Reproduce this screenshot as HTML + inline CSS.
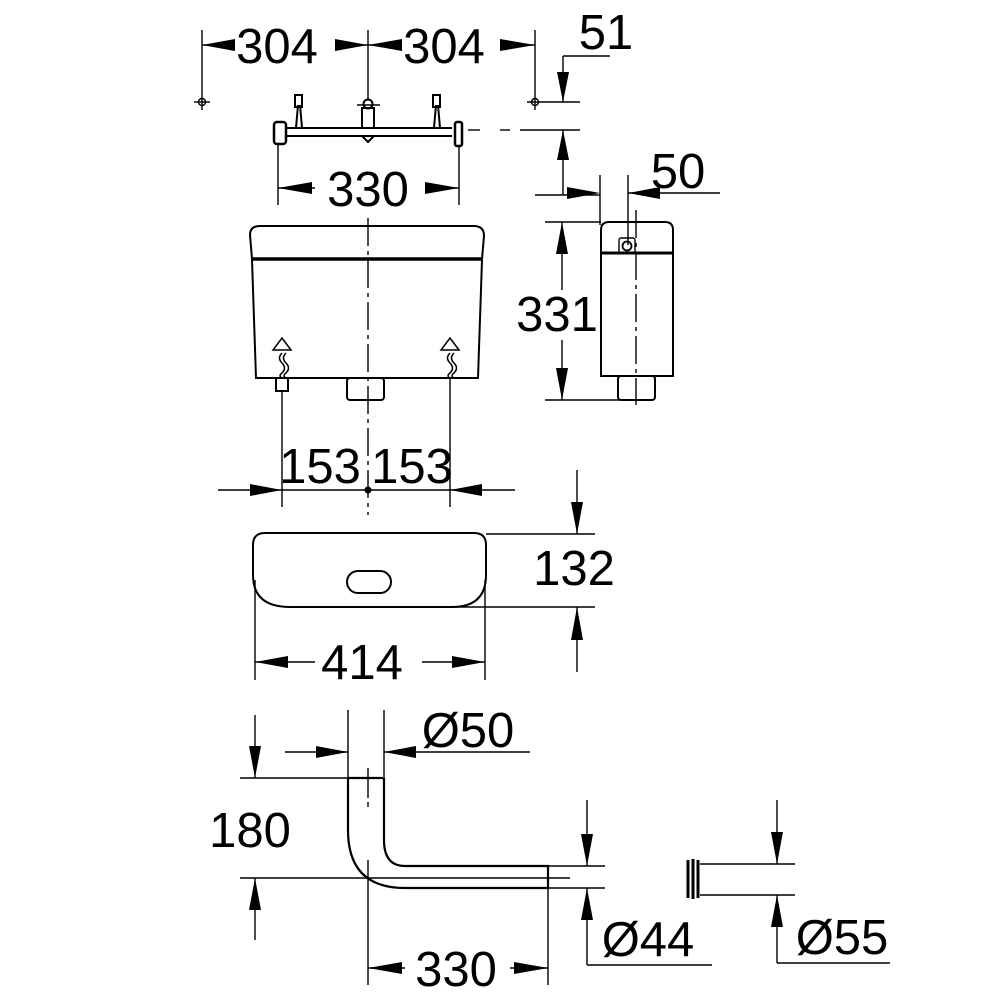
<!DOCTYPE html>
<html><head><meta charset="utf-8"><style>
html,body{margin:0;padding:0;background:#fff;}
svg{display:block;}
text{font-family:"Liberation Sans",sans-serif;font-size:49px;fill:#000;}
</style></head><body>
<svg width="1000" height="1000" viewBox="0 0 1000 1000" xmlns="http://www.w3.org/2000/svg">
<g stroke="#000" stroke-width="1.4" fill="none">
<line x1="202" y1="30" x2="202" y2="110"/>
<line x1="368" y1="30" x2="368" y2="100"/>
<line x1="535" y1="30" x2="535" y2="110"/>
<line x1="202" y1="45" x2="235" y2="45"/><line x1="335" y1="45" x2="402" y2="45"/><line x1="500" y1="45" x2="535" y2="45"/>
<circle cx="202" cy="102" r="3.5"/><line x1="194" y1="102" x2="210" y2="102"/>
<circle cx="535" cy="102" r="3.5"/><line x1="527" y1="102" x2="545" y2="102"/>
<line x1="563" y1="56" x2="610" y2="56"/><line x1="563" y1="56" x2="563" y2="102"/>
<line x1="545" y1="102" x2="580" y2="102"/>
<line x1="468" y1="130" x2="480" y2="130"/><line x1="500" y1="130" x2="510" y2="130"/><line x1="520" y1="130" x2="580" y2="130"/>
<line x1="563" y1="130" x2="563" y2="195"/>
<line x1="535" y1="195" x2="600" y2="195"/>
<line x1="600" y1="175" x2="600" y2="225"/><line x1="628" y1="175" x2="628" y2="245"/>
<line x1="628" y1="193" x2="720" y2="193"/>
<path d="M285 128 H452 M285 136 H452" stroke-width="2"/>
<path d="M296 128 L298 105 M302 128 L300 105 M434 128 L436 105 M440 128 L438 105" stroke-width="2"/>
<rect x="295" y="95" width="7" height="12" stroke-width="2"/>
<rect x="433" y="95" width="7" height="12" stroke-width="2"/>
<path d="M362 128 V108 H374 V128 M362 136 L368 142 L374 136" stroke-width="2"/>
<circle cx="368" cy="104" r="4.5" stroke-width="2"/>
<line x1="357" y1="105" x2="380" y2="105"/>
<rect x="274" y="122" width="12" height="22" rx="3" stroke-width="2.5"/>
<rect x="455" y="122" width="7" height="24" rx="2" stroke-width="2.5"/>
<line x1="278" y1="144" x2="278" y2="205"/><line x1="459" y1="146" x2="459" y2="205"/>
<line x1="278" y1="188" x2="315" y2="188"/><line x1="425" y1="188" x2="459" y2="188"/>
<path d="M252 259 L250 235 Q250 226 260 226 L474 226 Q484 226 484 236 L482 259" stroke-width="2"/>
<line x1="251" y1="259" x2="483" y2="259" stroke-width="3.5"/>
<path d="M252 260 L256 378 L478 378 L482 260" stroke-width="2"/>
<rect x="276" y="378" width="12" height="13" stroke-width="2"/>
<rect x="347" y="378" width="37" height="22" rx="3" stroke-width="2"/>
<line x1="368" y1="218" x2="368" y2="515" stroke-dasharray="28,5,4,5"/>
<path d="M282 338 L291 350 L273 350 Z M282 353 q-5 5 0 10 q5 5 0 10 q-4 3 0 5 M286 353 q-5 5 0 10 q5 5 0 10 q-4 3 0 5" stroke-width="1.5"/>
<path d="M450 338 L459 350 L441 350 Z M450 353 q-5 5 0 10 q5 5 0 10 q-4 3 0 5 M454 353 q-5 5 0 10 q5 5 0 10 q-4 3 0 5" stroke-width="1.5"/>
<line x1="282" y1="391" x2="282" y2="507"/><line x1="450" y1="378" x2="450" y2="507"/>
<line x1="218" y1="490" x2="515" y2="490"/>
<path d="M601 376 V230 Q601 222 609 222 H665 Q673 222 673 230 V376 Z" stroke-width="2"/>
<line x1="601" y1="253" x2="673" y2="253" stroke-width="3"/>
<rect x="619" y="238" width="16" height="15" rx="2"/><circle cx="627" cy="246" r="4.5" stroke-width="1.8"/>
<rect x="618" y="376" width="37" height="24" rx="3" stroke-width="2"/>
<line x1="636" y1="210" x2="636" y2="405" stroke-dasharray="28,5,4,5"/>
<line x1="545" y1="222" x2="601" y2="222"/><line x1="545" y1="400" x2="620" y2="400"/>
<line x1="562" y1="222" x2="562" y2="290"/><line x1="562" y1="340" x2="562" y2="400"/>
<path d="M253 545 Q253 533 265 533 H474 Q486 533 486 545 V575 Q486 607 452 607 H290 Q253 607 253 575 Z" stroke-width="2"/>
<rect x="347" y="571" width="44" height="22" rx="11" stroke-width="2"/>
<line x1="486" y1="534" x2="595" y2="534"/><line x1="450" y1="607" x2="595" y2="607"/>
<line x1="577" y1="470" x2="577" y2="534"/><line x1="577" y1="607" x2="577" y2="672"/>
<line x1="255" y1="580" x2="255" y2="680"/><line x1="485" y1="580" x2="485" y2="680"/>
<line x1="255" y1="662" x2="315" y2="662"/><line x1="422" y1="662" x2="485" y2="662"/>
<path d="M348 778 H383 M348 778 V830 Q348 888 405 888 H548 V866 H405 Q384 866 384 840 V778" stroke-width="2.2"/>
<line x1="368" y1="768" x2="368" y2="985"/>
<path d="M368 768 V860" stroke="#fff" stroke-width="2" stroke-dasharray="0,30,4,5,400"/>
<line x1="240" y1="878" x2="570" y2="878" stroke-dasharray="400,6,10,6,30"/>
<line x1="240" y1="778" x2="348" y2="778"/>
<line x1="255" y1="715" x2="255" y2="778"/><line x1="255" y1="878" x2="255" y2="940"/>
<line x1="348" y1="710" x2="348" y2="778"/><line x1="384" y1="710" x2="384" y2="778"/>
<line x1="285" y1="752" x2="348" y2="752"/><line x1="384" y1="752" x2="530" y2="752"/>
<line x1="548" y1="888" x2="548" y2="985"/>
<line x1="368" y1="968" x2="405" y2="968"/><line x1="510" y1="968" x2="548" y2="968"/>
<line x1="548" y1="866" x2="605" y2="866"/><line x1="548" y1="888" x2="605" y2="888"/>
<line x1="587" y1="800" x2="587" y2="866"/><line x1="587" y1="888" x2="587" y2="965"/><line x1="587" y1="965" x2="712" y2="965"/>
<line x1="700" y1="864" x2="795" y2="864"/><line x1="700" y1="895" x2="795" y2="895"/>
<path d="M688 860 V898 M693 859 V899 M698 860 V898" stroke-width="3"/>
<line x1="777" y1="800" x2="777" y2="864"/><line x1="777" y1="895" x2="777" y2="963"/><line x1="777" y1="963" x2="890" y2="963"/>
</g>
<g fill="#000">
<polygon points="202,45 235,39 235,51"/><polygon points="368,45 335,39 335,51"/>
<polygon points="368,45 402,39 402,51"/><polygon points="535,45 500,39 500,51"/>
<polygon points="563,102 557,72 569,72"/><polygon points="563,130 557,160 569,160"/>
<polygon points="600,193 567,187 567,199"/><polygon points="628,193 660,187 660,199"/>
<polygon points="278,188 312,182 312,194"/><polygon points="459,188 425,182 425,194"/>
<polygon points="562,222 556,254 568,254"/><polygon points="562,400 556,368 568,368"/>
<polygon points="282,490 250,484 250,496"/><polygon points="450,490 482,484 482,496"/>
<circle cx="368" cy="490" r="3.5"/>
<polygon points="577,534 571,502 583,502"/><polygon points="577,607 571,640 583,640"/>
<polygon points="255,662 288,656 288,668"/><polygon points="485,662 452,656 452,668"/>
<polygon points="255,778 249,746 261,746"/><polygon points="255,878 249,910 261,910"/>
<polygon points="348,752 316,746 316,758"/><polygon points="384,752 416,746 416,758"/>
<polygon points="368,968 402,962 402,974"/><polygon points="548,968 514,962 514,974"/>
<polygon points="587,866 581,834 593,834"/><polygon points="587,888 581,920 593,920"/>
<polygon points="777,864 771,832 783,832"/><polygon points="777,895 771,927 783,927"/>
</g>
<text x="277" y="63" text-anchor="middle">304</text>
<text x="444" y="63" text-anchor="middle">304</text>
<text x="606" y="49" text-anchor="middle">51</text>
<text x="368" y="206" text-anchor="middle">330</text>
<text x="678" y="188" text-anchor="middle">50</text>
<text x="557" y="331" text-anchor="middle">331</text>
<text x="320" y="483" text-anchor="middle">153</text>
<text x="412" y="483" text-anchor="middle">153</text>
<text x="574" y="585" text-anchor="middle">132</text>
<text x="362" y="679" text-anchor="middle">414</text>
<text x="468" y="747" text-anchor="middle">Ø50</text>
<text x="250" y="847" text-anchor="middle">180</text>
<text x="456" y="986" text-anchor="middle">330</text>
<text x="648" y="956" text-anchor="middle">Ø44</text>
<text x="842" y="954" text-anchor="middle">Ø55</text>
</svg>
</body></html>
